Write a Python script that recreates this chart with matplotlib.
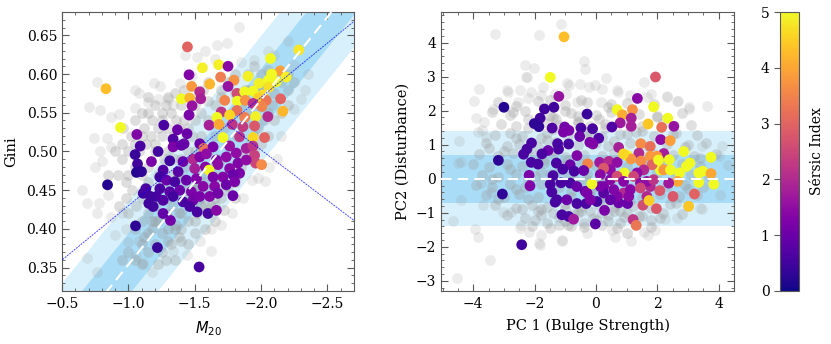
import matplotlib
matplotlib.use('Agg')
import matplotlib.pyplot as plt
import numpy as np
from matplotlib.ticker import MultipleLocator

plt.rcParams['font.family'] = 'DejaVu Serif'
plt.rcParams['mathtext.fontset'] = 'dejavusans'

# ---------------- left panel: Gini - M20 ----------------
# galaxies with Sersic index (M20, Gini, n)
m20_col = [-1.445, -2.284, -2.071, -1.680, -1.751, -1.558, -1.457, -2.144, -2.079, -2.189,
           -1.901, -1.695, -1.796, -1.613, -1.477, -1.751, -1.984, -2.054, -2.114, -2.059,
           -1.538, -1.818, -1.876, -1.939, -2.014, -1.400, -1.462, -1.545, -1.726, -1.821,
           -1.881, -1.979, -2.039, -2.147, -1.480, -1.700, -1.818, -1.939, -2.006, -2.164,
           -1.457, -1.668, -1.763, -1.876, -1.959, -2.051, -1.608, -1.683, -1.783, -1.863,
           -1.951, -1.267, -1.370, -1.713, -1.838, -1.939, -2.026, -1.442, -1.337, -1.420,
           -1.337, -1.400, -1.538, -1.568, -1.638, -1.763, -1.813, -1.888, -1.939, -1.951,
           -1.959, -2.004, -1.224, -1.174, -1.312, -1.262, -1.375, -1.412, -1.487, -1.538,
           -1.588, -1.663, -1.738, -1.826, -1.888, -1.500, -1.580, -1.675, -1.608, -1.763,
           -1.838, -1.237, -1.287, -1.350, -1.437, -1.513, -1.638, -1.713, -1.788, -1.237,
           -1.312, -1.387, -1.475, -1.563, -1.650, -1.738, -1.801, -1.212, -1.262, -1.337,
           -1.412, -1.487, -1.538, -1.613, -1.675, -1.788, -1.462, -1.600, -1.518, -1.663,
           -1.262, -1.317, -1.187, -1.112, -1.132, -1.167, -1.154, -0.831, -0.941, -0.843,
           -1.054, -1.219, -1.533, -1.064, -1.051, -1.089, -1.069, -1.061, -1.099]
gini_col = [0.635, 0.631, 0.620, 0.612, 0.610, 0.608, 0.599, 0.604, 0.600, 0.596,
            0.597, 0.596, 0.592, 0.587, 0.584, 0.584, 0.588, 0.592, 0.590, 0.583,
            0.577, 0.575, 0.577, 0.578, 0.573, 0.568, 0.569, 0.568, 0.566, 0.565,
            0.566, 0.569, 0.566, 0.568, 0.559, 0.551, 0.553, 0.562, 0.558, 0.552,
            0.547, 0.544, 0.547, 0.544, 0.545, 0.545, 0.534, 0.535, 0.535, 0.532,
            0.533, 0.534, 0.528, 0.518, 0.519, 0.518, 0.518, 0.523, 0.516, 0.510,
            0.506, 0.508, 0.510, 0.504, 0.506, 0.507, 0.498, 0.504, 0.507, 0.495,
            0.485, 0.483, 0.500, 0.487, 0.488, 0.476, 0.474, 0.487, 0.490, 0.493,
            0.497, 0.489, 0.493, 0.485, 0.489, 0.478, 0.480, 0.483, 0.476, 0.478,
            0.472, 0.467, 0.463, 0.461, 0.463, 0.465, 0.467, 0.467, 0.470, 0.452,
            0.448, 0.450, 0.448, 0.455, 0.455, 0.457, 0.461, 0.442, 0.437, 0.442,
            0.435, 0.437, 0.442, 0.442, 0.446, 0.443, 0.429, 0.420, 0.422, 0.424,
            0.420, 0.411, 0.429, 0.446, 0.452, 0.442, 0.433, 0.581, 0.531, 0.457,
            0.404, 0.376, 0.351, 0.522, 0.496, 0.507, 0.484, 0.473, 0.474]
n_left = [3.0, 4.8, 5.0, 4.9, 1.4, 4.9, 1.3, 3.9, 5.0, 4.9,
          4.9, 3.4, 3.7, 4.2, 3.8, 1.6, 4.9, 5.0, 5.0, 4.7,
          2.0, 2.6, 5.0, 5.0, 4.7, 5.0, 4.2, 1.8, 3.5, 5.0,
          3.7, 4.5, 3.3, 3.0, 1.6, 2.2, 3.2, 2.1, 3.5, 4.2,
          1.2, 5.0, 4.6, 3.4, 4.9, 2.0, 1.8, 4.0, 2.2, 2.3,
          2.8, 0.6, 1.0, 5.0, 2.2, 4.6, 3.0, 1.0, 0.7, 1.0,
          1.2, 0.9, 1.0, 3.3, 1.2, 1.6, 1.5, 1.8, 2.2, 2.4,
          2.5, 3.6, 0.5, 1.2, 0.5, 0.7, 0.8, 1.0, 2.0, 1.3,
          1.5, 1.3, 1.5, 1.3, 1.5, 1.8, 1.4, 1.5, 5.0, 1.4,
          1.2, 0.5, 1.0, 0.6, 1.0, 1.3, 1.2, 1.3, 1.0, 0.6,
          0.8, 1.0, 1.2, 1.4, 1.4, 1.0, 1.2, 0.6, 0.7, 0.5,
          0.6, 1.1, 1.2, 1.3, 1.1, 1.0, 0.6, 0.6, 0.6, 1.4,
          0.9, 1.1, 0.5, 0.5, 0.6, 0.5, 0.5, 4.3, 5.0, 0.2,
          0.3, 0.4, 0.6, 1.3, 0.4, 0.6, 0.5, 0.2, 0.3]

# full sample, sparse outskirts (M20, Gini)
m20_bg_out = [-1.83, -1.67, -1.74, -1.58, -1.43, -1.52, -1.65, -1.85, -1.95, -2.20,
              -2.25, -1.48, -1.39, -1.19, -1.24, -1.05, -1.08, -0.76, -0.70, -0.79,
              -0.87, -0.93, -1.05, -1.15, -1.22, -1.30, -1.34, -0.74, -0.84, -0.87,
              -0.75, -0.80, -0.79, -0.65, -0.69, -0.76, -0.78, -0.85, -0.87, -0.95,
              -0.98, -0.90, -1.00, -1.08, -0.69, -0.76, -1.06, -1.11, -1.18, -1.34,
              -1.44, -1.54, -1.62, -1.62, -1.70, -1.78, -1.86, -1.93, -1.98, -2.03,
              -2.12, -2.06, -2.15, -2.25, -2.30, -2.33, -2.05, -2.10, -2.35]
gini_bg_out = [0.661, 0.638, 0.640, 0.630, 0.625, 0.622, 0.620, 0.616, 0.618, 0.642,
               0.612, 0.597, 0.589, 0.588, 0.584, 0.580, 0.575, 0.590, 0.557, 0.554,
               0.545, 0.549, 0.556, 0.564, 0.568, 0.568, 0.560, 0.517, 0.517, 0.506,
               0.480, 0.488, 0.500, 0.450, 0.433, 0.420, 0.434, 0.444, 0.415, 0.420,
               0.400, 0.392, 0.383, 0.385, 0.362, 0.345, 0.365, 0.356, 0.345, 0.372,
               0.367, 0.385, 0.372, 0.400, 0.405, 0.420, 0.440, 0.463, 0.466, 0.462,
               0.490, 0.480, 0.520, 0.555, 0.568, 0.580, 0.630, 0.625, 0.600]
# full sample, dense core
m20_bg_core = [-0.92, -0.95, -0.98, -1.00, -1.02, -0.96, -1.05, -1.10, -1.12, -1.15,
               -1.18, -1.20, -1.25, -1.28, -1.32, -1.36, -1.40, -1.42, -1.35, -1.05,
               -1.08, -1.13, -1.17, -1.22, -1.25, -1.30, -1.34, -1.38, -1.42, -1.46,
               -1.50, -1.53, -1.56, -1.60, -1.48, -1.45, -1.40, -1.35, -1.30, -1.27,
               -1.20, -1.15, -1.10, -1.03, -0.98, -0.93, -1.00, -1.06, -1.10, -1.15,
               -1.22, -1.28, -1.33, -1.38, -1.43, -1.50, -1.55, -1.60, -1.65, -1.70,
               -1.75, -1.80, -1.90, -1.95, -2.00, -2.05, -2.10, -2.15, -2.20, -1.88,
               -1.98, -1.05, -1.10, -1.15, -1.20, -1.12, -1.18, -1.22, -1.25, -1.30,
               -1.28, -1.33, -1.38, -1.40, -1.45, -1.48, -1.52, -1.55, -1.58, -1.60,
               -1.65, -1.68, -1.72, -1.75, -1.78, -1.82, -1.85, -1.88, -1.92, -1.95,
               -1.98, -2.02, -2.05, -2.08, -1.20, -1.25, -1.32, -1.38, -1.45, -1.50,
               -1.28, -1.15, -1.22, -1.35, -1.42, -1.48, -1.55, -1.62, -1.70, -1.75,
               -1.82, -1.88, -1.92, -1.98, -2.02, -1.60, -1.65, -1.72, -1.78, -1.85,
               -1.58, -1.45, -1.12, -1.40, -1.52, -1.68, -1.30, -1.18, -1.36, -1.62,
               -1.00, -1.05, -1.10, -1.15, -1.20, -1.25, -1.30, -1.35, -1.40, -1.45,
               -1.50, -1.55, -1.60, -1.65, -1.70, -1.75, -1.80, -1.85, -1.90, -1.95,
               -2.00, -2.05, -2.10, -2.15, -2.20, -1.30, -1.40, -1.50, -1.58, -1.65,
               -1.72, -1.80, -1.35, -1.10, -0.95, -0.85, -0.90, -0.95, -1.00, -1.05,
               -1.10, -1.20, -1.25, -1.30, -1.15, -1.40, -1.45, -1.50, -1.55, -1.60,
               -1.70, -1.80, -1.90, -2.00, -2.10, -2.20, -2.25]
gini_bg_core = [0.470, 0.490, 0.460, 0.500, 0.520, 0.530, 0.540, 0.550, 0.530, 0.550,
                0.540, 0.560, 0.550, 0.560, 0.550, 0.540, 0.560, 0.580, 0.575, 0.480,
                0.500, 0.510, 0.520, 0.530, 0.520, 0.530, 0.520, 0.530, 0.540, 0.550,
                0.560, 0.575, 0.580, 0.590, 0.520, 0.500, 0.490, 0.490, 0.500, 0.490,
                0.500, 0.480, 0.470, 0.450, 0.440, 0.430, 0.420, 0.430, 0.440, 0.460,
                0.470, 0.460, 0.470, 0.470, 0.480, 0.500, 0.520, 0.540, 0.560, 0.580,
                0.590, 0.600, 0.600, 0.610, 0.600, 0.605, 0.600, 0.590, 0.580, 0.580,
                0.585, 0.400, 0.410, 0.420, 0.430, 0.390, 0.400, 0.410, 0.395, 0.400,
                0.420, 0.430, 0.420, 0.400, 0.410, 0.430, 0.420, 0.440, 0.430, 0.450,
                0.440, 0.460, 0.450, 0.470, 0.480, 0.470, 0.490, 0.500, 0.510, 0.520,
                0.530, 0.540, 0.550, 0.560, 0.380, 0.370, 0.380, 0.390, 0.380, 0.395,
                0.360, 0.370, 0.355, 0.445, 0.450, 0.460, 0.470, 0.480, 0.490, 0.510,
                0.520, 0.535, 0.550, 0.560, 0.570, 0.500, 0.520, 0.530, 0.550, 0.560,
                0.460, 0.435, 0.450, 0.465, 0.455, 0.470, 0.440, 0.410, 0.405, 0.430,
                0.370, 0.360, 0.380, 0.395, 0.410, 0.420, 0.415, 0.400, 0.420, 0.440,
                0.450, 0.430, 0.420, 0.430, 0.440, 0.455, 0.460, 0.480, 0.490, 0.500,
                0.510, 0.520, 0.540, 0.550, 0.560, 0.385, 0.385, 0.410, 0.400, 0.410,
                0.425, 0.440, 0.360, 0.355, 0.360, 0.470, 0.500, 0.510, 0.470, 0.510,
                0.520, 0.510, 0.540, 0.570, 0.570, 0.510, 0.530, 0.540, 0.550, 0.565,
                0.570, 0.575, 0.580, 0.585, 0.575, 0.600, 0.590]

# ---------------- right panel: PC1 - PC2 ----------------
pc1_col = [-1.04, -1.49, -1.21, -3.00, -1.68, -1.37, -0.29, -1.82, -2.01, -1.86,
           -1.43, -1.02, -0.88, -1.06, -0.49, -0.11, -0.53, -0.20, 0.09, -0.10,
           -2.10, -2.25, -2.36, -3.18, -1.56, -1.25, -0.89, -1.22, -0.62, -1.76,
           -2.11, -1.89, -1.29, -0.84, -0.27, 0.12, 0.42, 0.69, -2.18, -1.40,
           -1.08, -0.71, -0.40, -3.05, -2.15, -1.49, -1.44, -1.14, -0.84, -0.62,
           -0.35, -1.27, -1.33, -0.95, -0.62, -0.32, 0.03, 0.28, -1.11,
           -0.89, -0.73, -0.02, -2.42, 0.74, 1.03, 1.21, 1.31, 1.53, 1.97,
           1.94, 1.35, 1.88, 0.69, 1.19, 0.86, 1.15, 0.79, 1.15, 1.70,
           2.14, 2.34, 2.54, 0.52, 2.11, 2.42, 1.46, 1.77, 0.74, 1.02,
           1.40, 1.14, 1.47, 1.77, 2.21, 2.39, 2.86, 3.75, 3.06, 2.95,
           3.35, 3.48, 3.75, 3.84, 3.35, 2.73, 2.66, 2.37, 3.21, 3.02,
           2.51, 2.08, 1.77, 2.01, 2.10, 1.83, 1.56, 1.34, 0.92, 0.90,
           0.47, 0.25, 0.14, 0.47, 0.69, 0.90, 1.23, 1.45, 1.66, 1.88,
           0.25, 0.58, 0.90, 1.12, 1.45, 0.25, 0.69, 1.07, 1.66, 1.73,
           -0.29, -0.18, 0.14, 0.47, 2.21, 2.43, 1.99, 2.04, -0.13]
pc2_col = [4.17, 2.98, 2.42, 2.10, 2.05, 2.10, 1.90, 1.78, 1.62, 1.53,
           1.49, 1.52, 1.42, 1.37, 1.49, 1.47, 1.24, 1.07, 1.19, 1.02,
           1.05, 0.87, 0.72, 0.54, 0.83, 1.03, 1.02, 0.87, 0.68, 0.73,
           0.48, 0.43, 0.46, 0.41, 0.44, 0.48, 0.51, 0.48, 0.10, 0.09,
           0.28, 0.22, 0.24, -0.45, -0.21, -0.16, -0.39, -0.12, -0.13, -0.23,
           -0.37, -0.62, -0.69, -0.62, -0.73, -0.73, -0.67, -0.93, -1.06,
           -1.11, -1.19, -1.33, -1.94, -0.71, -0.73, -1.20, -1.37, -0.78, -0.88,
           2.99, 2.36, 2.11, 2.03, 2.03, 1.88, 1.78, 1.64, 1.54, 1.61,
           1.51, 1.78, 1.54, 1.52, 1.15, 1.12, 1.03, 0.95, 0.92, 0.68,
           0.75, 0.58, 0.52, 0.66, 0.74, 0.56, 0.80, 0.63, 0.46, 0.36,
           0.17, 0.22, 0.15, -0.16, -0.11, 0.17, -0.08, -0.13, -0.45, -0.81,
           -0.52, -0.35, -0.23, 0.46, 0.26, 0.41, 0.26, 0.17, 0.17, 0.73,
           0.26, 0.31, 0.12, -0.03, 0.07, -0.08, 0.07, -0.13, -0.08, -0.03,
           -0.23, -0.32, -0.42, -0.32, -0.27, -0.42, -0.52, -0.52, -0.52, -0.64,
           -0.42, -0.62, -0.23, -0.62, 0.26, 0.26, 0.66, 0.55, -0.15]
n_right = [4.3, 5.0, 1.6, 0.2, 0.5, 0.5, 0.4, 0.5, 0.3, 0.3,
           0.7, 1.1, 1.2, 1.2, 0.6, 0.6, 1.0, 1.2, 0.7, 1.3,
           0.6, 0.6, 0.6, 0.3, 1.0, 0.6, 0.6, 0.6, 1.3, 0.6,
           0.6, 0.6, 0.6, 1.0, 3.5, 1.7, 2.0, 1.5, 1.2, 0.6,
           0.6, 0.6, 1.0, 0.3, 1.3, 0.6, 0.6, 0.6, 0.6, 1.0,
           1.0, 0.6, 0.6, 1.0, 0.6, 0.6, 0.6, 1.2, 0.6,
           0.6, 1.7, 0.8, 0.5, 1.0, 1.0, 2.2, 3.3, 2.6, 2.8,
           2.8, 1.4, 5.0, 5.0, 3.7, 4.1, 1.8, 1.7, 1.8, 4.4,
           3.2, 5.0, 1.6, 0.7, 1.5, 3.9, 3.6, 3.2, 1.8, 5.0,
           2.0, 3.8, 3.6, 3.8, 1.8, 5.0, 5.0, 5.0, 5.0, 5.0,
           5.0, 5.0, 4.0, 5.0, 5.0, 5.0, 4.0, 1.7, 3.0, 4.4,
           2.8, 2.8, 2.0, 3.8, 5.0, 3.0, 2.0, 1.5, 5.0, 4.6,
           1.5, 2.8, 1.4, 1.4, 2.6, 1.4, 2.5, 1.5, 1.5, 2.2,
           1.2, 1.3, 2.0, 1.4, 2.5, 0.8, 1.3, 1.4, 2.0, 4.5,
           1.2, 1.2, 1.2, 0.9, 3.8, 5.0, 3.8, 5.0, 5.0]

pc1_bg_out = [-4.52, -3.45, -3.28, -1.86, -1.14, -2.30, -2.01, -0.40, -0.37, 0.34,
              -3.80, -2.90, -3.96, -2.25, -1.71, -0.95, -0.51, -0.24, 0.20, 0.69,
              1.55, 2.32, 2.64, 3.03, 3.63, 1.78, 4.11, 4.00, 3.46, -4.49,
              -4.41, -4.65, -3.94, -3.85, -4.48, -3.70, -2.49, -1.78, -1.11, -0.29,
              0.63, 1.01, 1.94, 2.64, 3.40, -1.84, -2.28, -0.87, -2.47, -2.11,
              -2.88, -3.37, -3.65, -3.91, -3.86, -3.59, -2.55, -2.22, -1.79, -1.35,
              -0.97, -0.61, -0.03, 0.17, 0.73, 1.11, 1.65, 2.31, 2.69, 3.02,
              -3.69, -3.04, -2.77, -2.44, -2.17, -1.85, -1.10, -3.75, -3.42, -4.40,
              0.51, 1.00, 1.14, 1.55, 1.71, 2.25, 3.45, 4.05, 4.32]
pc2_bg_out = [-2.93, -2.39, 4.25, 4.22, 4.54, 3.35, 3.24, 3.45, 3.22, 2.95,
              2.63, 2.62, 2.27, 2.99, 2.69, 2.81, 2.78, 2.71, 2.65, 2.60,
              2.83, 2.40, 2.28, 2.10, 2.14, 2.50, 0.95, 0.66, 0.95, 0.46,
              -0.62, -1.25, -1.49, -1.71, 1.10, 1.44, -1.46, -1.65, -1.80, -1.61,
              -1.72, -1.60, -1.50, -1.16, -0.86, -1.95, 2.99, 2.76, 2.61, 2.55,
              2.55, 2.06, 1.67, 1.79, 1.38, 1.23, 2.26, 2.36, 2.46, 2.50,
              2.50, 2.26, 2.75, 2.26, 2.55, 2.46, 2.41, 2.43, 2.28, 2.06,
              -0.78, -0.97, -0.97, -1.36, -1.56, -1.90, -1.83, -0.14, -0.38, 0.50,
              -1.51, -1.61, -1.83, -1.56, -1.66, -1.17, -0.88, -0.48, 0.40]
pc1_bg_core = [-3.2, -2.6, -1.9, -1.0, -0.3, 0.4, 1.0, 1.9,
               -3.4, -2.8, -2.3, -1.5, -0.8, 0.0, 0.5, 1.4, 2.0, 2.8,
               -3.1, -2.6, -1.7, -1.2, -0.6, -0.2, 0.3, 1.0, 1.5, 2.2, 3.1,
               -3.3, -2.8, -2.4, -1.6, -0.9, -0.3, 0.2, 0.8, 1.3, 1.9, 2.6, 3.3,
               -3.6, -2.9, -2.5, -1.9, -1.3, -0.6, 0.0, 0.4, 1.1, 1.7, 2.3, 2.9, 3.6,
               -3.8, -3.2, -2.7, -2.0, -1.4, -1.0, -0.4, 0.2, 0.6, 1.3, 1.9, 2.5, 3.2, 3.9,
               -4.0, -3.5, -2.9, -2.4, -1.7, -1.1, -0.5, 0.0, 0.5, 1.0, 1.6, 2.2, 2.8, 3.4,
               -3.7, -3.2, -2.6, -2.0, -1.5, -0.9, -0.3, 0.2, 0.8, 1.4, 2.0, 2.6, 3.1, 3.7,
               -3.9, -3.4, -2.8, -2.3, -1.8, -1.2, -0.6, 0.0, 0.5, 1.1, 1.7, 2.3, 2.9, 3.5,
               -3.6, -3.0, -2.5, -1.9, -1.4, -0.8, -0.2, 0.3, 0.9, 1.5, 2.1, 2.7, 3.3,
               -3.3, -2.6, -2.1, -1.6, -1.0, -0.5, 0.1, 0.6, 1.2, 1.8, 2.4, 3.0,
               -2.9, -2.3, -1.8, -1.2, -0.7, -0.1, 0.4, 0.9, 1.5, 2.1, 2.8,
               -2.1, -1.5, -0.9, -0.4, 0.2, 0.7, 1.3, 1.8,
               -1.7, -1.2, -0.7, -0.2, 0.3, 0.8, -1.4, -0.9, -0.4, 0.1,
               0.6, 1.1, -1.9, -1.3, -0.8, -0.3, 0.2, 0.7, -2.2, -1.6,
               -1.0, -0.5, 0.0, 0.5, -1.3, -0.6, 0.1, -2.7, -2.2, -1.4,
               -2.4, -2.0, -1.6, -1.2, -0.8, -0.4, 0.0, 0.4, 0.8, -2.2,
               -1.8, -1.4, -1.0, -0.6, -0.2, 0.2, 0.6, 1.0, 1.4, -2.6,
               -2.2, -1.8, -2.8, -3.0, -2.6, -2.2, -1.8, -1.4, -1.0, -0.6,
               -0.2, 0.3, 0.6, 1.0, 1.5, 2.0, 2.5, 3.0, 3.4, 3.0,
               2.6, 2.2, 1.8, -3.4, -3.2, -3.5, -1.5, -0.5, 0.5]
pc2_bg_core = [2.25, 2.15, 2.28, 2.18, 2.25, 2.12, 2.22, 2.20,
               1.95, 1.88, 1.98, 1.85, 1.93, 1.87, 1.96, 1.90, 1.84, 1.92,
               1.62, 1.55, 1.66, 1.58, 1.65, 1.54, 1.60, 1.67, 1.56, 1.63, 1.58,
               1.28, 1.35, 1.25, 1.33, 1.27, 1.36, 1.24, 1.31, 1.38, 1.26, 1.34, 1.29,
               1.05, 0.96, 1.03, 0.94, 1.07, 0.98, 1.04, 0.95, 1.06, 0.97, 1.02, 0.93, 1.05,
               0.72, 0.66, 0.75, 0.68, 0.73, 0.64, 0.71, 0.67, 0.76, 0.65, 0.74, 0.69, 0.66, 0.72,
               0.42, 0.35, 0.44, 0.37, 0.45, 0.36, 0.43, 0.38, 0.41, 0.34, 0.46, 0.39, 0.42, 0.36,
               0.12, 0.05, 0.14, 0.07, 0.15, 0.06, 0.13, 0.08, 0.11, 0.04, 0.16, 0.09, 0.12, 0.06,
               -0.18, -0.25, -0.16, -0.23, -0.15, -0.24, -0.17, -0.22, -0.19, -0.26, -0.14, -0.21, -0.18, -0.24,
               -0.48, -0.55, -0.46, -0.53, -0.45, -0.54, -0.47, -0.52, -0.49, -0.56, -0.44, -0.51, -0.48,
               -0.78, -0.85, -0.76, -0.83, -0.75, -0.84, -0.77, -0.82, -0.79, -0.86, -0.74, -0.81,
               -1.08, -1.15, -1.06, -1.13, -1.05, -1.14, -1.07, -1.12, -1.09, -1.16, -1.04,
               -1.38, -1.45, -1.36, -1.43, -1.35, -1.44, -1.37, -1.42,
               0.55, 0.25, -0.05, -0.35, -0.65, -0.95, 0.85, 0.55, 0.25, -0.05,
               -0.35, -0.65, -0.95, -0.65, -0.35, -0.05, 0.25, 0.55, 0.85, 1.15,
               -1.25, -0.95, -0.65, -0.35, 1.75, 1.85, 1.75, 1.95, 1.75, 1.45,
               -0.90, -1.20, -1.30, -1.35, -1.40, -1.30, -1.20, -1.25, -1.30, -0.60,
               -0.90, -1.00, -0.90, -1.00, -0.95, -1.00, -0.95, -1.00, -1.10, -0.30,
               0.00, 0.20, 0.30, 0.80, 1.20, 1.50, 1.20, 1.80, 2.00, 1.70,
               1.30, 1.50, 1.10, 1.30, 1.40, 1.80, 1.30, 1.00, 0.60, -0.30,
               -0.70, -1.00, -1.20, 0.00, -0.60, 0.90, 2.30, 2.30, 2.20]

fig = plt.figure(figsize=(8.31, 3.44), dpi=100)
ax1 = fig.add_axes([0.0746, 0.1541, 0.3514, 0.8110])
ax2 = fig.add_axes([0.5307, 0.1541, 0.3526, 0.8110])
cax = fig.add_axes([0.9386, 0.1541, 0.0229, 0.8110])

band_in = '#a9dcf6'
band_out = '#d8f0fb'
grey = '#999999'
ms = 60

# left: best-fit relation with 1 and 2 sigma bands
xx = np.linspace(-0.3, -2.9, 50)
fit = -0.213 * xx + 0.141
ax1.fill_between(xx, fit - 0.082, fit + 0.082, color=band_out, lw=0, zorder=0)
ax1.fill_between(xx, fit - 0.04, fit + 0.04, color=band_in, lw=0, zorder=0)
ax1.scatter(m20_bg_out, gini_bg_out, s=ms, color=grey, alpha=0.18, lw=0, zorder=1)
ax1.scatter(m20_bg_core, gini_bg_core, s=ms, color=grey, alpha=0.32, lw=0, zorder=1)
sc = ax1.scatter(m20_col, gini_col, c=n_left, cmap='plasma', vmin=0, vmax=5, s=ms, lw=0, zorder=2)
ax1.plot(xx, fit, color='white', ls='--', lw=1.5, dashes=(5, 3), zorder=3)
# merger / bulge dividing lines
ax1.plot(xx, -0.14 * xx + 0.29, color='blue', lw=0.7, ls=(0, (2, 1)), alpha=0.7, zorder=3)
x2 = np.linspace(-1.74, -2.9, 20)
ax1.plot(x2, 0.13 * x2 + 0.762, color='blue', lw=0.7, ls=(0, (2, 1)), alpha=0.7, zorder=3)
ax1.set_xlim(-0.5, -2.7)
ax1.set_ylim(0.32, 0.68)
ax1.xaxis.set_major_locator(MultipleLocator(0.5))
ax1.xaxis.set_minor_locator(MultipleLocator(0.1))
ax1.yaxis.set_major_locator(MultipleLocator(0.05))
ax1.yaxis.set_minor_locator(MultipleLocator(0.01))
ax1.set_xlabel('$M_{20}$', fontsize=10.5, labelpad=6)
ax1.set_ylabel('Gini', fontsize=10.5, labelpad=6)

# right: PCA plane
ax2.axhspan(-1.4, 1.4, color=band_out, lw=0, zorder=0)
ax2.axhspan(-0.7, 0.7, color=band_in, lw=0, zorder=0)
ax2.scatter(pc1_bg_out, pc2_bg_out, s=ms, color=grey, alpha=0.18, lw=0, zorder=1)
ax2.scatter(pc1_bg_core, pc2_bg_core, s=ms, color=grey, alpha=0.3, lw=0, zorder=1)
ax2.scatter(pc1_col, pc2_col, c=n_right, cmap='plasma', vmin=0, vmax=5, s=ms, lw=0, zorder=2)
ax2.axhline(0, color='white', ls='--', lw=1.5, dashes=(5, 3), zorder=3)
ax2.set_xlim(-5.05, 4.5)
ax2.set_ylim(-3.3, 4.9)
ax2.xaxis.set_major_locator(MultipleLocator(2))
ax2.xaxis.set_minor_locator(MultipleLocator(0.5))
ax2.yaxis.set_major_locator(MultipleLocator(1))
ax2.yaxis.set_minor_locator(MultipleLocator(0.2))
ax2.set_xlabel('PC 1 (Bulge Strength)', fontsize=10.5, labelpad=6)
ax2.set_ylabel('PC2 (Disturbance)', fontsize=10.5, labelpad=4)

for ax in (ax1, ax2):
    ax.tick_params(which='both', direction='in', top=True, right=True, color='0.35', labelsize=10)
    ax.tick_params(which='major', length=5)
    ax.tick_params(which='minor', length=2.5)
    ax.tick_params(axis='x', pad=4)
    for sp in ax.spines.values():
        sp.set_color('0.35')

cb = fig.colorbar(sc, cax=cax)
cb.set_ticks([0, 1, 2, 3, 4, 5])
cb.outline.set_edgecolor('0.35')
cax.yaxis.set_ticks_position('left')
cax.yaxis.set_label_position('right')
cax.tick_params(labelsize=10, color='0.35', length=4)
cb.set_label('Sérsic Index', fontsize=10, labelpad=8)

fig.savefig('out.png', dpi=100)
